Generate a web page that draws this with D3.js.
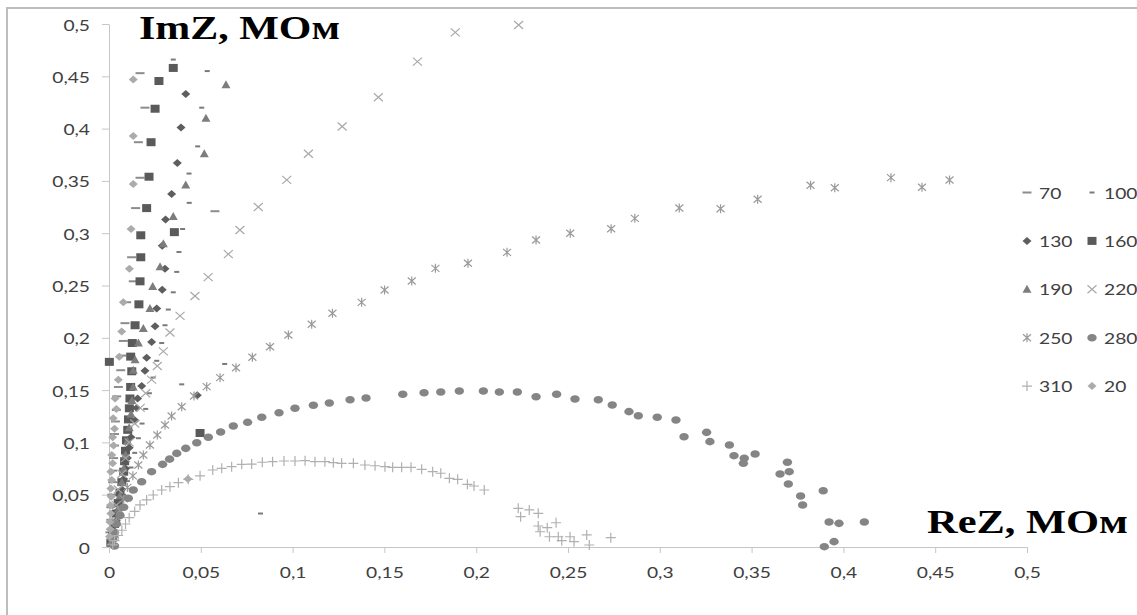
<!DOCTYPE html>
<html>
<head>
<meta charset="utf-8">
<script src="https://cdn.jsdelivr.net/npm/d3@7"></script>
<style>
  body { margin: 0; background: #fff; }
  svg { display: block; }
</style>
</head>
<body>
<div id="chart"></div>
<script>
// [ReZ, ImZ] in MOhm
const s70 = [[0.0005,0.014],[0.001,0.026],[0.001,0.038],[0.0015,0.05],[0.002,0.062],[0.002,0.073],[0.0025,0.085],[0.003,0.097],[0.003,0.108],[0.0035,0.12],[0.004,0.131],[0.0042,0.144],[0.0051,0.153],[0.0064,0.169],[0.0069,0.183],[0.0078,0.197],[0.0087,0.214],[0.0096,0.234],[0.0132,0.254],[0.0123,0.277],[0.0145,0.324],[0.0169,0.353],[0.016,0.387],[0.0196,0.42],[0.0169,0.453],[0.0577,0.321]];
const s100 = [[0.002,0.013],[0.004,0.025],[0.006,0.037],[0.008,0.05],[0.010,0.063],[0.012,0.076],[0.014,0.09],[0.016,0.104],[0.018,0.118],[0.020,0.132],[0.022,0.147],[0.024,0.162],[0.026,0.178],[0.0287,0.195],[0.0305,0.212],[0.0323,0.227],[0.035,0.2435],[0.0369,0.263],[0.0381,0.282],[0.0401,0.304],[0.0437,0.329],[0.0436,0.357],[0.0483,0.383],[0.0505,0.42],[0.0535,0.455],[0.035,0.466],[0.0396,0.1555],[0.063,0.175],[0.0825,0.032]];
const s130 = [[0.002,0.007],[0.003,0.015],[0.004,0.025],[0.005,0.035],[0.006,0.045],[0.007,0.055],[0.008,0.065],[0.009,0.075],[0.010,0.085],[0.011,0.095],[0.012,0.105],[0.0142,0.121],[0.0151,0.133],[0.0156,0.142],[0.0178,0.154],[0.0196,0.1685],[0.0205,0.181],[0.0232,0.196],[0.0251,0.211],[0.026,0.228],[0.029,0.246],[0.0305,0.266],[0.029,0.288],[0.0308,0.313],[0.0341,0.3375],[0.0372,0.367],[0.0392,0.401],[0.0418,0.433],[0.0481,0.145]];
const s160 = [[0.001,0.004],[0.002,0.012],[0.003,0.022],[0.004,0.032],[0.005,0.042],[0.006,0.052],[0.007,0.062],[0.008,0.072],[0.0085,0.082],[0.009,0.092],[0.0095,0.102],[0.0102,0.112],[0.0106,0.122],[0.0111,0.1326],[0.0114,0.142],[0.0118,0.153],[0.0124,0.168],[0.0118,0.182],[0.0127,0.195],[0.0142,0.212],[0.0163,0.232],[0.0169,0.254],[0.0173,0.277],[0.0173,0.298],[0.0205,0.324],[0.0218,0.354],[0.0229,0.387],[0.0251,0.419],[0.0272,0.4455],[0.035,0.458],[0.0356,0.301],[0.0002,0.177],[0.0496,0.109]];
const s190 = [[0.003,0.012],[0.004,0.024],[0.005,0.036],[0.006,0.049],[0.007,0.062],[0.008,0.075],[0.009,0.088],[0.010,0.101],[0.011,0.114],[0.012,0.127],[0.0125,0.14],[0.0132,0.153],[0.0132,0.169],[0.0142,0.179],[0.016,0.195],[0.0187,0.209],[0.0223,0.228],[0.0238,0.249],[0.0278,0.268],[0.0296,0.29],[0.035,0.316],[0.0418,0.346],[0.0519,0.376],[0.0528,0.41],[0.0637,0.442]];
const s220 = [[0.002,0.012],[0.003,0.025],[0.004,0.040],[0.005,0.055],[0.007,0.070],[0.009,0.085],[0.011,0.100],[0.014,0.118],[0.017,0.133],[0.020,0.147],[0.0232,0.160],[0.0263,0.173],[0.0296,0.187],[0.0332,0.205],[0.0387,0.221],[0.0468,0.240],[0.054,0.258],[0.065,0.280],[0.0713,0.303],[0.0813,0.325],[0.0968,0.351],[0.1086,0.376],[0.127,0.402],[0.1467,0.430],[0.168,0.464],[0.1886,0.492],[0.2231,0.499]];
const s250 = [[0.001,0.005],[0.002,0.013],[0.004,0.024],[0.006,0.035],[0.008,0.046],[0.010,0.057],[0.013,0.068],[0.016,0.0784],[0.0187,0.088],[0.0223,0.0975],[0.0263,0.1071],[0.0305,0.1166],[0.0341,0.1252],[0.0396,0.1341],[0.0463,0.1444],[0.0532,0.1533],[0.0605,0.1619],[0.0692,0.1714],[0.0781,0.1814],[0.0877,0.1915],[0.0977,0.2027],[0.1104,0.2129],[0.1217,0.2234],[0.1376,0.2339],[0.1501,0.2457],[0.1649,0.2543],[0.1778,0.2664],[0.1955,0.2712],[0.2168,0.2817],[0.2326,0.2935],[0.2512,0.2999],[0.2735,0.3043],[0.2864,0.3142],[0.3106,0.3241],[0.3331,0.3234],[0.3533,0.3324],[0.3821,0.3458],[0.3953,0.3435],[0.4259,0.3531],[0.4428,0.3439],[0.4578,0.3509]];
const s280 = [[0.003,0.001],[0.002,0.007],[0.003,0.014],[0.004,0.022],[0.006,0.030],[0.008,0.038],[0.0105,0.0466],[0.0132,0.0545],[0.0178,0.0624],[0.0232,0.072],[0.0292,0.079],[0.033,0.084],[0.0369,0.0895],[0.0418,0.0943],[0.0478,0.0997],[0.0541,0.1049],[0.0608,0.1099],[0.0677,0.1157],[0.0755,0.1192],[0.0832,0.124],[0.0926,0.1284],[0.1013,0.1326],[0.1113,0.1355],[0.12,0.1377],[0.1313,0.1408],[0.14,0.1424],[0.16,0.146],[0.1716,0.1475],[0.1807,0.1482],[0.1908,0.1491],[0.2039,0.1491],[0.2126,0.1482],[0.2224,0.1482],[0.2326,0.1437],[0.2438,0.146],[0.2538,0.1415],[0.2665,0.1408],[0.2741,0.1358],[0.2832,0.1294],[0.2883,0.1255],[0.2986,0.124],[0.3088,0.1214],[0.3132,0.1054],[0.3255,0.1096],[0.3273,0.1007],[0.3379,0.0975],[0.3404,0.0873],[0.346,0.0848],[0.3455,0.08],[0.3519,0.0889],[0.3655,0.0698],[0.3695,0.081],[0.3705,0.072],[0.37,0.0602],[0.3767,0.0488],[0.3778,0.0402],[0.389,0.0538],[0.3922,0.0239],[0.3976,0.0226],[0.4114,0.0239],[0.3949,0.0051],[0.3896,0.0003]];
const s310 = [[0.002,0.002],[0.003,0.006],[0.005,0.011],[0.007,0.016],[0.009,0.022],[0.011,0.028],[0.014,0.034],[0.0169,0.0402],[0.0205,0.045],[0.0241,0.0497],[0.0287,0.0545],[0.0332,0.0577],[0.0378,0.0615],[0.0432,0.0647],[0.0496,0.068],[0.0565,0.0736],[0.0614,0.0752],[0.0668,0.0768],[0.0723,0.079],[0.0777,0.0793],[0.0835,0.081],[0.0891,0.0816],[0.0953,0.0822],[0.1013,0.0822],[0.1068,0.0825],[0.1122,0.0816],[0.1176,0.0816],[0.1222,0.0806],[0.1267,0.08],[0.1331,0.08],[0.1394,0.0784],[0.1449,0.0777],[0.1503,0.0768],[0.1545,0.0762],[0.1594,0.0762],[0.1645,0.0762],[0.1703,0.0743],[0.1763,0.072],[0.1807,0.0705],[0.1854,0.0657],[0.1899,0.0647],[0.1952,0.0599],[0.1988,0.0583],[0.2044,0.0545],[0.2229,0.037],[0.2242,0.029],[0.2289,0.0354],[0.2338,0.0322],[0.2338,0.0201],[0.2387,0.0185],[0.2435,0.0232],[0.2348,0.0146],[0.2399,0.0098],[0.2447,0.0098],[0.2511,0.0098],[0.2533,0.0051],[0.2602,0.0115],[0.2616,0.0019],[0.2733,0.0089],[0.2466,0.006]];
const s20 = [[0.0003,0.01],[0.0006,0.017],[0.0005,0.024],[0.001,0.032],[0.0008,0.04],[0.0012,0.048],[0.001,0.056],[0.0015,0.064],[0.001,0.072],[0.002,0.08],[0.0015,0.088],[0.0025,0.097],[0.002,0.105],[0.003,0.113],[0.0023,0.123],[0.004,0.132],[0.0033,0.142],[0.0051,0.160],[0.0056,0.182],[0.0069,0.206],[0.0078,0.234],[0.0111,0.266],[0.012,0.304],[0.0132,0.347],[0.0132,0.393],[0.0132,0.447],[0.043,0.065]];

const seriesNames = ["70", "100", "130", "160", "190", "220", "250", "280", "310", "20"];
const seriesValues = [s70, s100, s130, s160, s190, s220, s250, s280, s310, s20];
const xTicks = [0, 0.05, 0.1, 0.15, 0.2, 0.25, 0.3, 0.35, 0.4, 0.45, 0.5];
const yTicks = [0, 0.05, 0.1, 0.15, 0.2, 0.25, 0.3, 0.35, 0.4, 0.45, 0.5];
const xTitle = "ReZ, МОм";
const yTitle = "ImZ, МОм";

const width = 1137, height = 615;
const stretch = 1.2;   // the picture is wider than tall
const fmt = d => String(d).replace(".", ",");

// marker look per series
const markers = {
    "70":  { d: "M-4.5,-1H4.5V1H-4.5Z", fill: "#8c8c8c" },
    "100": { d: "M-2.5,-1H2.5V1H-2.5Z", fill: "#7a7a7a" },
    "130": { d: "M0,-4L4.5,0L0,4L-4.5,0Z", fill: "#5e5e5e" },
    "160": { d: "M-4.5,-4H4.5V4H-4.5Z", fill: "#5a5a5a" },
    "190": { d: "M0,-4.5L4.5,3.5H-4.5Z", fill: "#7d7d7d" },
    "220": { d: "M-4.5,-4L4.5,4M-4.5,4L4.5,-4", stroke: "#a8a8a8" },
    "250": { d: "M-4,-3.5L4,3.5M-4,3.5L4,-3.5M0,-4.5V4.5", stroke: "#9a9a9a" },
    "280": { d: "M-4.7,0a4.7,3.8 0 1,0 9.4,0a4.7,3.8 0 1,0 -9.4,0", fill: "#858585" },
    "310": { d: "M-5,0H5M0,-5V5", stroke: "#b0b0b0" },
    "20":  { d: "M0,-4L4.5,0L0,4L-4.5,0Z", fill: "#ababab" }
};

const svg = d3.select("#chart").append("svg")
    .attr("width", width)
    .attr("height", height)
    .style("background", "#fff");

// frame (top and left edge of the cropped chart area)
svg.append("path")
    .attr("d", `M7,${height}V8H${width}`)
    .attr("fill", "none")
    .attr("stroke", "#bdbdbd")
    .attr("stroke-width", 2);

const x = d3.scaleLinear().domain([0, 0.5]).range([109, 1027]);
const y = d3.scaleLinear().domain([0, 0.5]).range([547, 24]);

const gx = svg.append("g")
    .attr("transform", `translate(0,${y(0)})`)
    .call(d3.axisBottom(x).tickValues(xTicks).tickSize(6).tickSizeOuter(0).tickFormat(fmt));

const gy = svg.append("g")
    .attr("transform", `translate(${x(0)},0)`)
    .call(d3.axisLeft(y).tickValues(yTicks).tickSize(7).tickSizeOuter(0).tickFormat(fmt));

[gx, gy].forEach(g => {
    g.attr("font-family", "Lato, 'Open Sans', sans-serif").attr("font-size", 16);
    g.select(".domain").attr("stroke", "#c6c6c6");
    g.selectAll(".tick line").attr("stroke", "#c6c6c6");
    g.selectAll(".tick text").attr("fill", "#404040");
});

gx.selectAll(".tick text")
    .attr("y", null).attr("dy", null)
    .attr("transform", `translate(0,31) scale(${stretch},1)`);

gy.selectAll(".tick text")
    .attr("x", null).attr("dy", null)
    .attr("transform", `translate(-19,6) scale(${stretch},1)`);

// points
seriesNames.forEach((name, i) => {
    const m = markers[name];
    svg.append("g")
        .selectAll("path")
        .data(seriesValues[i])
        .join("path")
        .attr("transform", d => `translate(${x(d[0])},${y(d[1])})`)
        .attr("d", m.d)
        .attr("fill", m.fill || "none")
        .attr("stroke", m.stroke || "none")
        .attr("stroke-width", 1.2);
});

// axis titles
svg.append("text")
    .attr("x", 139).attr("y", 39)
    .attr("font-family", "'Liberation Serif', 'Times New Roman', serif")
    .attr("font-weight", "bold")
    .attr("font-size", 34)
    .attr("textLength", 201)
    .attr("lengthAdjust", "spacingAndGlyphs")
    .attr("fill", "#000")
    .text(yTitle);

svg.append("text")
    .attr("x", 927).attr("y", 533)
    .attr("font-family", "'Liberation Serif', 'Times New Roman', serif")
    .attr("font-weight", "bold")
    .attr("font-size", 33)
    .attr("textLength", 201)
    .attr("lengthAdjust", "spacingAndGlyphs")
    .attr("fill", "#000")
    .text(xTitle);

// legend, two columns
const legend = svg.append("g");
seriesNames.forEach((name, i) => {
    const col = i % 2, row = Math.floor(i / 2);
    const lx = col === 0 ? 1027 : 1092;
    const ly = 192.5 + row * 48.4;
    const m = markers[name];
    legend.append("path")
        .attr("transform", `translate(${lx},${ly})`)
        .attr("d", m.d)
        .attr("fill", m.fill || "none")
        .attr("stroke", m.stroke || "none")
        .attr("stroke-width", 1.2);
    legend.append("text")
        .attr("transform", `translate(${lx + 12},${ly + 6}) scale(${stretch},1)`)
        .attr("font-family", "Lato, 'Open Sans', sans-serif")
        .attr("font-size", 16)
        .attr("fill", "#404040")
        .text(name);
});
</script>
</body>
</html>
